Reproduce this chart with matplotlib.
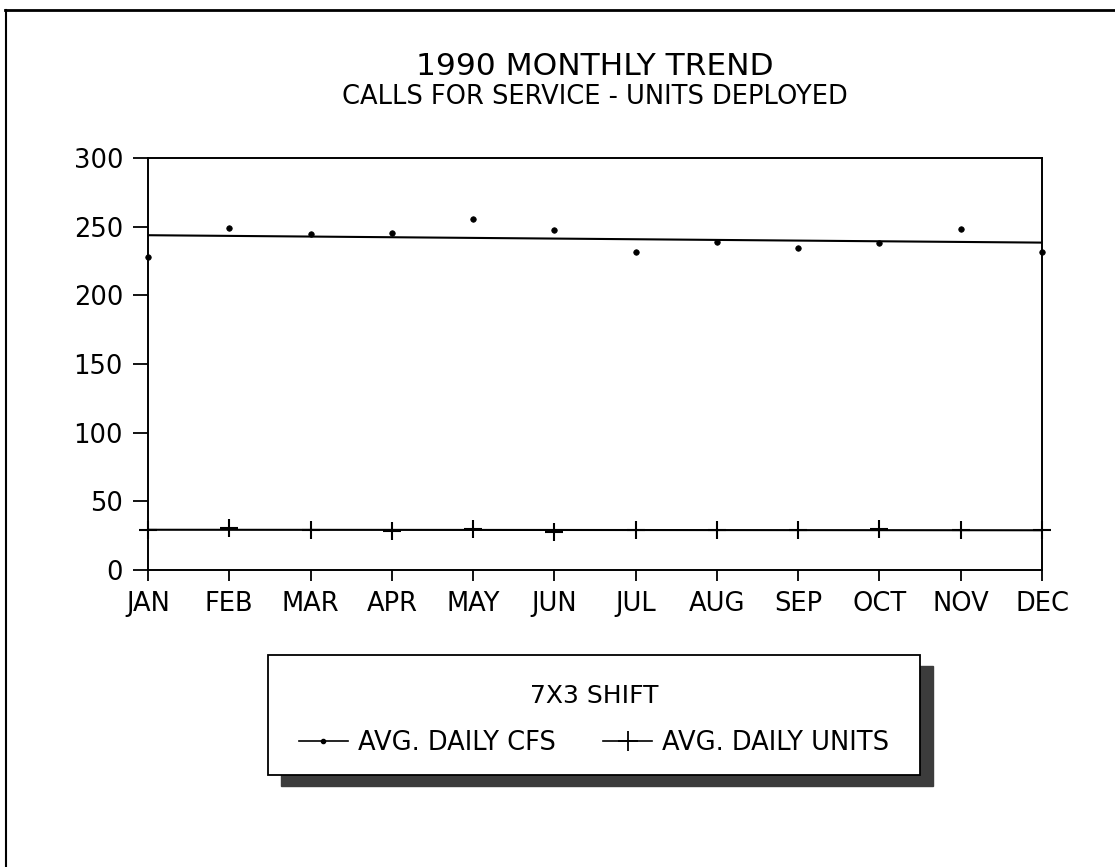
import numpy as np
import matplotlib
matplotlib.use("Agg")
import matplotlib.pyplot as plt
from matplotlib.lines import Line2D
from matplotlib.patches import Rectangle

months = ["JAN", "FEB", "MAR", "APR", "MAY", "JUN",
          "JUL", "AUG", "SEP", "OCT", "NOV", "DEC"]
avg_daily_cfs = [228, 249, 245, 245.5, 255.5, 247.5, 231.5, 239, 234.5, 238, 248, 231.5]
avg_daily_units = [29, 30.5, 29, 28.5, 30, 28, 29, 29, 29, 29.5, 29, 29]

plt.rcParams['font.family'] = ['DejaVu Sans']

W, H = 1115, 867
fig = plt.figure(figsize=(W / 100, H / 100), dpi=100)
ax = fig.add_axes([148 / W, 1 - 570 / H, (1042 - 148) / W, (570 - 158) / H])

x = np.arange(len(months))

# least squares trend line plus the monthly points for each series
for vals, mk, ms, mew in [(avg_daily_cfs, 'o', 4, 0.5), (avg_daily_units, '+', 13, 1.5)]:
    fit = np.polyfit(x, vals, 1)
    ax.plot(x, np.polyval(fit, x), color='black', lw=1.5)
    ax.plot(x, vals, linestyle='none', marker=mk, markersize=ms,
            markeredgewidth=mew, color='black', clip_on=False)

ax.set_xlim(0, 11)
ax.set_ylim(0, 300)
ax.set_xticks(x)
ax.set_xticklabels(months)
ax.set_yticks(range(0, 301, 50))
ax.tick_params(axis='x', direction='out', length=8, width=1.3, labelsize=18.5, pad=7)
ax.tick_params(axis='y', direction='out', length=11, width=1.3, labelsize=18.5, pad=7)
for s in ax.spines.values():
    s.set_linewidth(1.4)

cx = 595 / W
fig.text(cx, 1 - 75 / H, "1990 MONTHLY TREND", ha='center', va='baseline', fontsize=22.5)
fig.text(cx, 1 - 104 / H, "CALLS FOR SERVICE - UNITS DEPLOYED",
         ha='center', va='baseline', fontsize=18.5)

# legend box with its drop shadow
bx0, bx1, by0, by1 = 268, 920, 655, 775
fig.patches.append(Rectangle(((bx0 + 13) / W, 1 - (by1 + 11) / H), (bx1 - bx0) / W,
                             (by1 - by0) / H, transform=fig.transFigure,
                             facecolor='#3c3c3c', edgecolor='#3c3c3c', zorder=1))
fig.patches.append(Rectangle((bx0 / W, 1 - by1 / H), (bx1 - bx0) / W,
                             (by1 - by0) / H, transform=fig.transFigure,
                             facecolor='white', edgecolor='black', lw=1.3, zorder=2))
fig.text((bx0 + bx1) / 2 / W, 1 - 703 / H, "7X3 SHIFT", ha='center',
         va='baseline', fontsize=18, zorder=3)
handles = [Line2D([], [], color='black', lw=1.2, marker='o', markersize=3),
           Line2D([], [], color='black', lw=1.2, marker='+', markersize=14, markeredgewidth=1.3)]
leg = fig.legend(handles, ["AVG. DAILY CFS", "AVG. DAILY UNITS"], ncol=2,
                 loc='center', bbox_to_anchor=((bx0 + bx1) / 2 / W, 1 - 743 / H),
                 frameon=False, fontsize=18.5, handlelength=1.9, columnspacing=1.85,
                 handletextpad=0.4)
leg.set_zorder(3)

# page border on the top and left edges
fig.add_artist(Line2D([5 / W, 1], [1 - 10 / H, 1 - 10 / H],
                      transform=fig.transFigure, color='black', lw=2))
fig.add_artist(Line2D([6 / W, 6 / W], [1 - 10 / H, 0],
                      transform=fig.transFigure, color='black', lw=1.5))

fig.savefig("out.png", dpi=100, facecolor='white')
